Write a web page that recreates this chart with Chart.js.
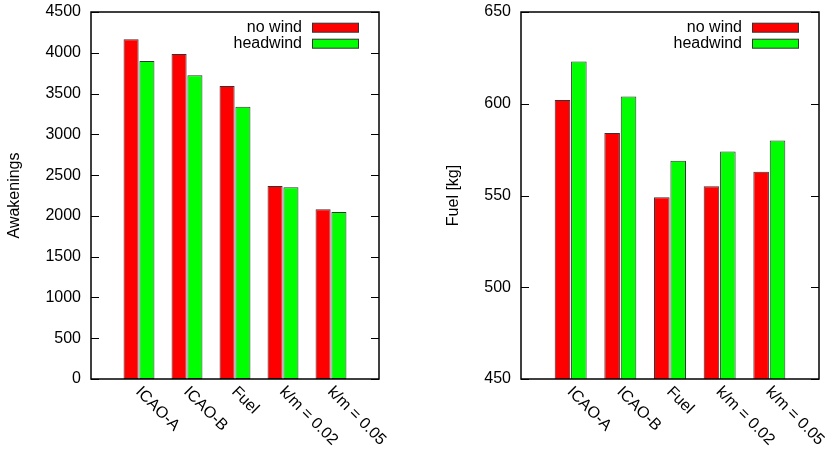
<!DOCTYPE html>
<html>
<head>
<meta charset="utf-8">
<script src="https://cdn.jsdelivr.net/npm/chart.js@4"></script>
<style>
  body { margin: 0; background: #fff; }
  canvas { position: absolute; top: 0; }
  #left { left: 0; }
  #right { left: 413px; }
</style>
</head>
<body>
<canvas id="left" width="413" height="451"></canvas>
<canvas id="right" width="414" height="451"></canvas>
<script>
// Data
const categories = ['ICAO-A', 'ICAO-B', 'Fuel', 'k/m = 0.02', 'k/m = 0.05'];
const seriesNames = ['no wind', 'headwind'];
const seriesColors = ['#ff0000', '#00ff00'];
const awakeningsNoWind = [4165, 3985, 3593, 2366, 2081];
const awakeningsHeadwind = [3899, 3724, 3339, 2350, 2048];
const fuelNoWind = [602, 584, 549, 555, 563];
const fuelHeadwind = [623, 604, 569, 574, 580];
const awakeningsAxis = [0, 4500, 500];   // min, max, step
const fuelAxis = [450, 650, 50];

const FONT = '"Liberation Sans", Arial, Helvetica, sans-serif';
Chart.defaults.font.family = FONT;
Chart.defaults.font.size = 16;
Chart.defaults.color = '#000';

// gnuplot leaves an empty slot on each side of the categories
const pad = arr => [null, ...arr, null];

// frame, inward tick marks, rotated category labels and the key
const gnuplotLook = {
  id: 'gnuplotLook',
  afterDatasetsDraw(chart) {
    const { ctx, chartArea: a, scales: { x, y } } = chart;
    ctx.save();
    ctx.strokeStyle = '#000';
    ctx.lineWidth = 1;
    ctx.beginPath();
    y.ticks.forEach(t => {
      const py = Math.round(y.getPixelForValue(t.value)) + 0.5;
      ctx.moveTo(a.left, py); ctx.lineTo(a.left + 8, py);
      ctx.moveTo(a.right, py); ctx.lineTo(a.right - 8, py);
    });
    ctx.stroke();
    ctx.lineWidth = 1.5;
    ctx.strokeRect(a.left, a.top, a.right - a.left, a.bottom - a.top);

    ctx.fillStyle = '#000';
    ctx.font = '16px ' + FONT;
    ctx.textAlign = 'left';
    ctx.textBaseline = 'middle';
    chart.data.labels.forEach((lab, i) => {
      if (!lab) return;
      ctx.save();
      ctx.translate(x.getPixelForValue(i) - 1, a.bottom + 10.5);
      ctx.rotate(Math.PI / 4);
      ctx.fillText(lab, 0, 0);
      ctx.restore();
    });

    // key, top right inside the plot
    ctx.textAlign = 'right';
    chart.data.datasets.forEach((ds, i) => {
      const cy = a.top + 15.7 + 16 * i;
      const bx = a.right - 20 - 47;
      ctx.fillStyle = ds.backgroundColor;
      ctx.fillRect(bx, cy - 4.5, 47, 9);
      ctx.strokeStyle = ds.borderColor;
      ctx.lineWidth = 1;
      ctx.strokeRect(bx + 0.5, cy - 4.5, 46, 9);
      ctx.fillStyle = '#000';
      ctx.fillText(ds.label, bx - 10, cy);
    });
    ctx.restore();
  }
};

function makeChart(id, noWind, headwind, axis, title, yWidth, padRight, titlePad) {
  return new Chart(document.getElementById(id), {
    type: 'bar',
    data: {
      labels: pad(categories),
      datasets: [noWind, headwind].map((vals, i) => ({
        label: seriesNames[i],
        data: pad(vals),
        backgroundColor: seriesColors[i],
        borderColor: '#333',
        borderWidth: 1,
        borderSkipped: false,
        categoryPercentage: 0.66,
        barPercentage: 0.95
      }))
    },
    options: {
      responsive: false,
      animation: false,
      layout: { padding: { left: 0, right: padRight, top: 12, bottom: 0 } },
      plugins: { legend: { display: false }, tooltip: { enabled: false } },
      scales: {
        x: {
          offset: false,
          grid: { display: false, drawTicks: false },
          border: { display: false },
          ticks: { display: false },
          afterFit: s => { s.height = 72; }
        },
        y: {
          min: axis[0],
          max: axis[1],
          beginAtZero: false,
          grid: { display: false, drawTicks: false },
          border: { display: false },
          ticks: { stepSize: axis[2], padding: 10, callback: v => String(v) },
          title: { display: true, text: title, padding: { top: titlePad, bottom: 0 } },
          afterFit: s => {
            s.width = yWidth;
            s.paddingTop = 0;
            s.paddingBottom = 0;
          }
        }
      }
    },
    plugins: [gnuplotLook]
  });
}

makeChart('left', awakeningsNoWind, awakeningsHeadwind, awakeningsAxis, 'Awakenings', 91, 34, 5);
makeChart('right', fuelNoWind, fuelHeadwind, fuelAxis, 'Fuel [kg]', 108, 8, 31);
</script>
</body>
</html>
